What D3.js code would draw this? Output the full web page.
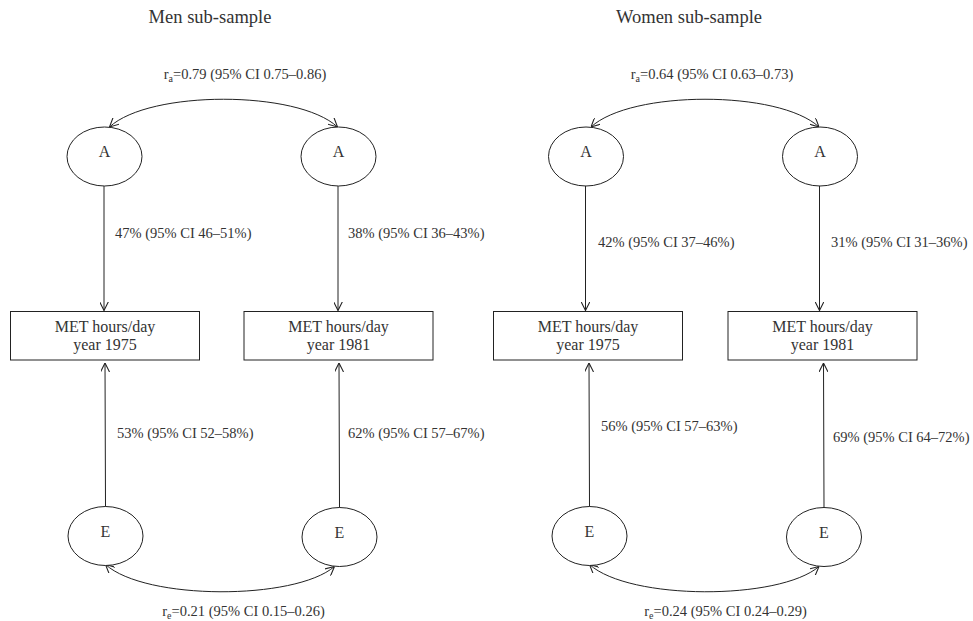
<!DOCTYPE html>
<html>
<head>
<meta charset="utf-8">
<script src="https://cdn.jsdelivr.net/npm/d3@7"></script>
<style>
  body { margin: 0; background: #fff; }
  svg text { font-family: "Liberation Serif", "DejaVu Serif", serif; fill: #333; }
</style>
</head>
<body>
<div class="chart-main"></div>
<script>

//////////
// DATA //
//////////

var panelTitles = ['Men sub-sample', 'Women sub-sample'];
var years = ['1975', '1981'];
var boxLabel = 'MET hours/day';

// additive genetic share per year [men, women]
var aShares = [
    ['47% (95% CI 46\u201351%)', '38% (95% CI 36\u201343%)'],
    ['42% (95% CI 37\u201346%)', '31% (95% CI 31\u201336%)']
];

// unique environment share per year
var eShares = [
    ['53% (95% CI 52\u201358%)', '62% (95% CI 57\u201367%)'],
    ['56% (95% CI 57\u201363%)', '69% (95% CI 64\u201372%)']
];

var raValues = ['0.79 (95% CI 0.75\u20130.86)', '0.64 (95% CI 0.63\u20130.73)'];
var reValues = ['0.21 (95% CI 0.15\u20130.26)', '0.24 (95% CI 0.24\u20130.29)'];

////////////
// LAYOUT //
////////////

var w = 973, h = 621;

// column centres of each panel (A, box, E drift slightly to the right)
var colA = [[104.5, 338.5], [586, 820]];
var colBox = [[105, 338.5], [588, 822.5]];
var colE = [[105.5, 339.5], [589.5, 824]];
var titleX = [210, 689];
var raX = [245, 712];
var reX = [243.5, 725.5];
var aLabelY = [[238, 238], [247, 247]];
var eLabelY = [[438, 438], [431, 442]];
var aLabelX = [[115, 348], [598, 831]];
var eLabelX = [[117, 348], [601, 833]];

var y = d3.scaleLinear().domain([0, h]).range([0, h]);

var rx = 37.5, ry = 29.5;
var aCy = 156.5, eCy = 536;
var boxTop = 311.5, boxH = 48.5, boxW = 189;

//////////////////
// CREATING SVG //
//////////////////

var svg = d3.select('.chart-main')
    .append('svg')
    .attr('width', w)
    .attr('height', h);

svg.append('defs').append('marker')
    .attr('id', 'arrow')
    .attr('viewBox', '0 0 10 10')
    .attr('refX', 10)
    .attr('refY', 5)
    .attr('markerWidth', 9)
    .attr('markerHeight', 9)
    .attr('markerUnits', 'userSpaceOnUse')
    .attr('orient', 'auto-start-reverse')
    .append('path')
    .attr('d', 'M0,0 L10,5 L0,10')
    .attr('fill', 'none')
    .attr('stroke', '#222')
    .attr('stroke-width', 1.2);

///////////
// DRAW  //
///////////

panelTitles.forEach(function(title, p) {

    var g = svg.append('g').attr('class', 'panel');

    g.append('text')
        .attr('x', titleX[p])
        .attr('y', y(23))
        .attr('text-anchor', 'middle')
        .style('font-size', '18.5px')
        .text(title);

    // r_a label
    var ra = g.append('text')
        .attr('x', raX[p])
        .attr('y', y(79))
        .attr('text-anchor', 'middle')
        .style('font-size', '14.5px');
    ra.append('tspan').text('r');
    ra.append('tspan').attr('dy', 3).style('font-size', '10px').text('a');
    ra.append('tspan').attr('dy', -3).text('=' + raValues[p]);

    // r_e label
    var re = g.append('text')
        .attr('x', reX[p])
        .attr('y', y(616))
        .attr('text-anchor', 'middle')
        .style('font-size', '14.5px');
    re.append('tspan').text('r');
    re.append('tspan').attr('dy', 3).style('font-size', '10px').text('e');
    re.append('tspan').attr('dy', -3).text('=' + reValues[p]);

    // top correlation arc between A's
    var a0 = colA[p][0] + 5, a1 = colA[p][1] - 1, ay = y(aCy - ry);
    g.append('path')
        .attr('d', 'M' + a0 + ',' + ay +
            ' C' + (a0 + 40) + ',' + (ay - 37) + ' ' + (a1 - 40) + ',' + (ay - 37) + ' ' + a1 + ',' + ay)
        .attr('fill', 'none')
        .attr('stroke', '#222')
        .attr('marker-start', 'url(#arrow)')
        .attr('marker-end', 'url(#arrow)');

    // bottom correlation arc between E's
    var e0 = colE[p][0], e1 = colE[p][1] - 5;
    var ey0 = y(eCy + ry - 1), ey1 = y(eCy + ry + 1);
    g.append('path')
        .attr('d', 'M' + e0 + ',' + ey0 +
            ' C' + (e0 + 40) + ',' + (ey0 + 36) + ' ' + (e1 - 40) + ',' + (ey1 + 34) + ' ' + e1 + ',' + ey1)
        .attr('fill', 'none')
        .attr('stroke', '#222')
        .attr('marker-start', 'url(#arrow)')
        .attr('marker-end', 'url(#arrow)');

    years.forEach(function(yr, c) {

        // A ellipse
        g.append('ellipse')
            .attr('cx', colA[p][c])
            .attr('cy', y(aCy))
            .attr('rx', rx)
            .attr('ry', ry)
            .attr('fill', '#fff')
            .attr('stroke', '#222');
        g.append('text')
            .attr('x', colA[p][c])
            .attr('y', y(aCy) + 0.5)
            .attr('text-anchor', 'middle')
            .style('font-size', '16px')
            .text('A');

        // E ellipse
        g.append('ellipse')
            .attr('cx', colE[p][c])
            .attr('cy', y(eCy + c))
            .attr('rx', rx)
            .attr('ry', ry)
            .attr('fill', '#fff')
            .attr('stroke', '#222');
        g.append('text')
            .attr('x', colE[p][c])
            .attr('y', y(eCy + c) + 1)
            .attr('text-anchor', 'middle')
            .style('font-size', '16px')
            .text('E');

        // box
        g.append('rect')
            .attr('x', colBox[p][c] - boxW / 2)
            .attr('y', y(boxTop))
            .attr('width', boxW)
            .attr('height', boxH)
            .attr('fill', '#fff')
            .attr('stroke', '#222');
        g.append('text')
            .attr('x', colBox[p][c])
            .attr('y', y(boxTop + 20))
            .attr('text-anchor', 'middle')
            .style('font-size', '16px')
            .text(boxLabel);
        g.append('text')
            .attr('x', colBox[p][c])
            .attr('y', y(boxTop + 38))
            .attr('text-anchor', 'middle')
            .style('font-size', '16px')
            .text('year ' + yr);

        // A -> box
        var xd = colA[p][c] - 0.5;
        g.append('line')
            .attr('x1', xd).attr('y1', y(aCy + ry))
            .attr('x2', xd).attr('y2', y(boxTop - 1))
            .attr('stroke', '#222')
            .attr('marker-end', 'url(#arrow)');

        // E -> box
        var xu = colE[p][c];
        g.append('line')
            .attr('x1', xu).attr('y1', y(eCy + c - ry))
            .attr('x2', xu - 0.5).attr('y2', y(boxTop + boxH + 3))
            .attr('stroke', '#222')
            .attr('marker-end', 'url(#arrow)');

        // path labels
        g.append('text')
            .attr('x', aLabelX[p][c])
            .attr('y', y(aLabelY[p][c]))
            .style('font-size', '14.5px')
            .text(aShares[p][c]);
        g.append('text')
            .attr('x', eLabelX[p][c])
            .attr('y', y(eLabelY[p][c]))
            .style('font-size', '14.5px')
            .text(eShares[p][c]);
    });
});

</script>
</body>
</html>
